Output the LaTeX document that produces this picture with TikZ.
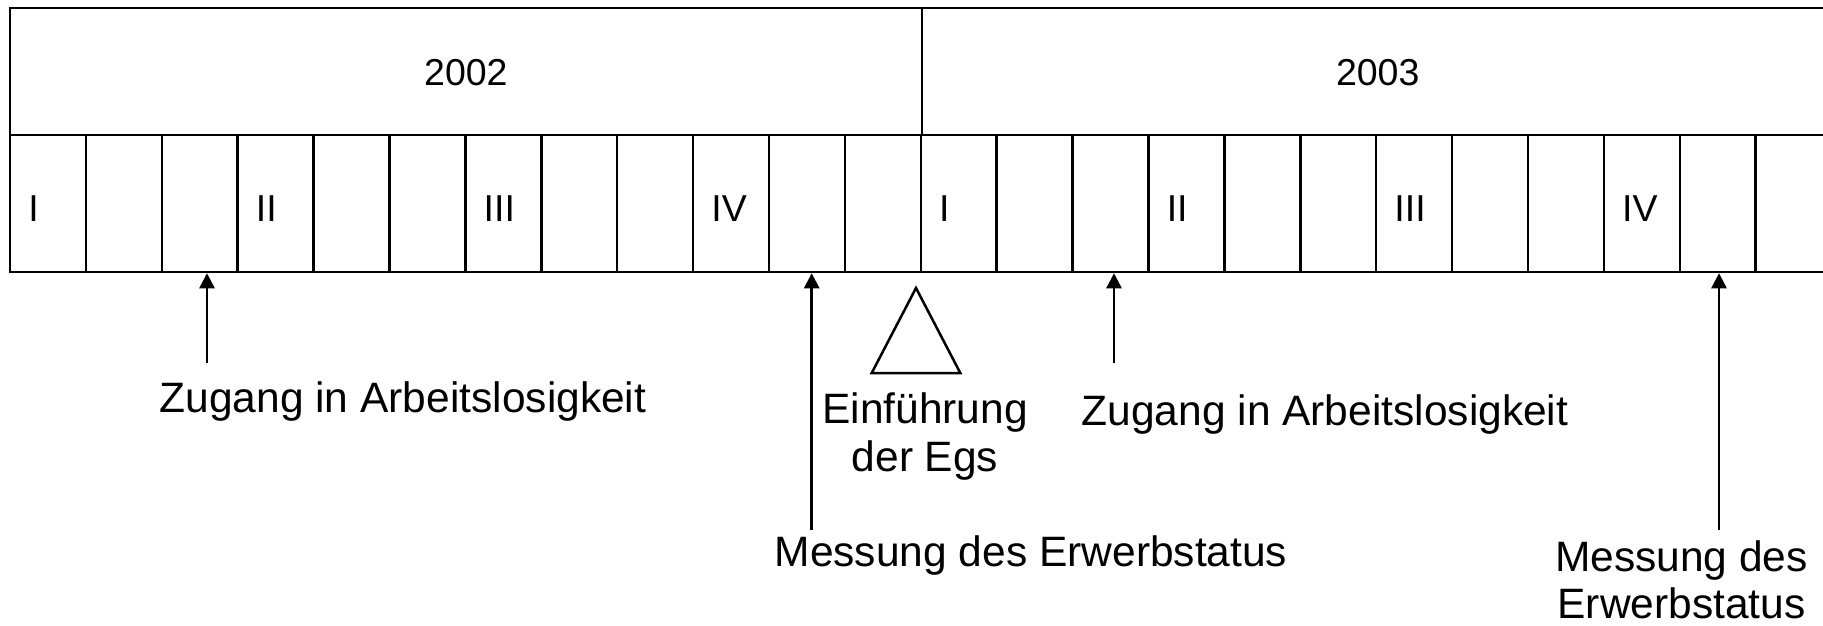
\documentclass[tikz,border=0pt]{standalone}
\usepackage{fontspec}
\setmainfont{Liberation Sans}
\usetikzlibrary{arrows.meta}
\begin{document}
\begin{tikzpicture}[x=1pt,y=-1pt,line width=2.5pt,
  yearbox/.style={draw,line width=2.5pt,minimum width=911.8pt,minimum height=127pt,inner sep=0pt,font=\fontsize{37.5}{40}\selectfont},
  cellbox/.style={draw,line width=2.5pt,minimum width=75.9pt,minimum height=137pt,inner sep=0pt},
  numlab/.style={anchor=base west,inner sep=0pt,font=\fontsize{37.5}{40}\selectfont},
  lab/.style={inner sep=0pt,font=\fontsize{42.5}{48.5}\selectfont,align=center},
  marker/.style={-{Triangle[length=15pt,width=15pt]},line width=2.5pt},
  egs/.style={draw,line width=2.5pt,line join=miter}]
\useasboundingbox (0,0) rectangle (1823,626);
\clip (0,0) rectangle (1823,626);
\fill[white] (0,0) rectangle (1823,626);
% year boxes
\node[yearbox] (y2002) at (465.9,71.5) {};
\node[yearbox] (y2003) at (1377.7,71.5) {};
\node[anchor=base,inner sep=0pt,font=\fontsize{37.5}{40}\selectfont] (l2002) at (465.9,85) {2002};
\node[anchor=base,inner sep=0pt,font=\fontsize{37.5}{40}\selectfont] (l2003) at (1377.7,85) {2003};
% month cells
\foreach \i in {0,...,23}
  \node[cellbox] (c\i) at ({10+75.9*(\i+0.5)},203.5) {};
\foreach \i/\t in {0/I,3/II,6/III,9/IV,12/I,15/II,18/III,21/IV}
  \node[numlab] (n\i) at ({10+75.9*\i+17},221) {\t};
% arrows
\coordinate (t1) at (207,363);
\coordinate (t2) at (811.7,530);
\coordinate (t3) at (1114,363);
\coordinate (t4) at (1719,530);
\draw[marker] (t1) -- (t1 |- c2.south);
\draw[marker] (t2) -- (t2 |- c10.south);
\draw[marker] (t3) -- (t3 |- c14.south);
\draw[marker] (t4) -- (t4 |- c22.south);
% triangle
\coordinate (ta) at (916,288);
\coordinate (tb) at (960.3,373);
\coordinate (tc) at (871.7,373);
\draw[egs] (ta) -- (tb) -- (tc) -- cycle;
% labels
\node[lab,anchor=base] (zug1) at (403,412) {Zugang in Arbeitslosigkeit};
\node[lab,anchor=base] (zug2) at (1325,425) {Zugang in Arbeitslosigkeit};
\node[lab,anchor=base] (mes1) at (1031,566) {Messung des Erwerbstatus};
\node[lab,anchor=base] (ein) at (925,471.5) {Einführung\\der Egs};
\node[lab,anchor=base,font=\fontsize{42.5}{47}\selectfont] (mes2) at (1681.5,618) {Messung des\\Erwerbstatus};
\end{tikzpicture}
\end{document}
